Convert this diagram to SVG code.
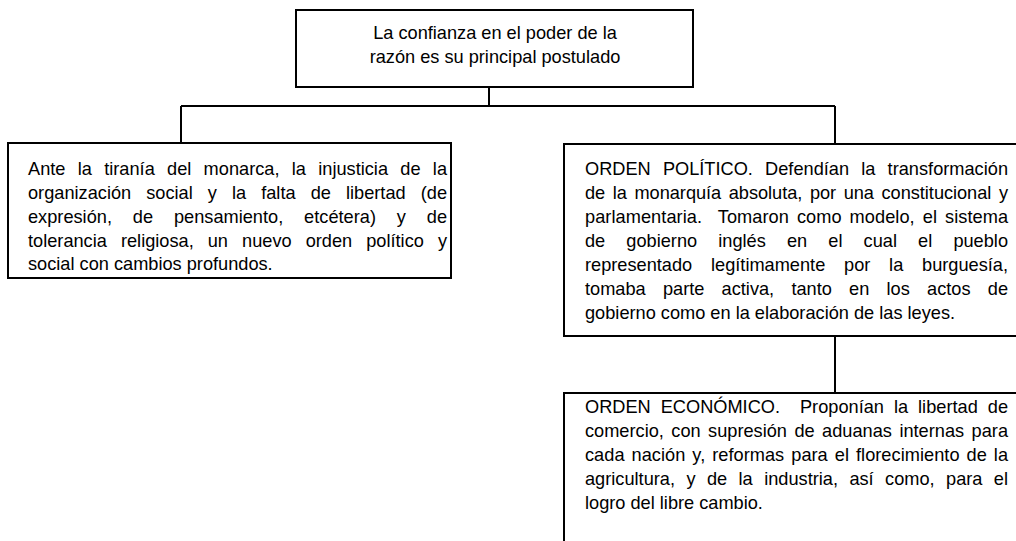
<svg xmlns="http://www.w3.org/2000/svg" width="1016" height="541" viewBox="0 0 1016 541">
<style>
.box{fill:#fff;stroke:#000;stroke-width:2}
.t{font-family:"Liberation Sans",Arial,sans-serif;font-size:18.2px;fill:#000}
.c{text-anchor:middle}
.pre{white-space:pre}
.ln{stroke:#000;stroke-width:2;fill:none}
</style>
<rect width="1016" height="541" fill="#fff"/>
<g id="connectors">
<path class="ln" d="M489 87V106M181 106H835M181 106V143M835 106V144M835 336V393"/>
</g>
<g id="top">
<rect class="box" x="296" y="10" width="397" height="77"/>
<text class="t c" x="495" y="39">La confianza en el poder de la</text>
<text class="t c" x="495" y="63">razón es su principal postulado</text>
</g>
<g id="left">
<rect class="box" x="8" y="143" width="443" height="135"/>
<text class="t" x="28" y="175" word-spacing="7.2" textLength="419" lengthAdjust="spacing">Ante la tiranía del monarca, la injusticia de la</text>
<text class="t" x="28" y="199" word-spacing="10" textLength="419" lengthAdjust="spacing">organización social y la falta de libertad (de</text>
<text class="t" x="28" y="223" word-spacing="15.8" textLength="419" lengthAdjust="spacing">expresión, de pensamiento, etcétera) y de</text>
<text class="t" x="28" y="247" word-spacing="9" textLength="419" lengthAdjust="spacing">tolerancia religiosa, un nuevo orden político y</text>
<text class="t" x="28" y="270">social con cambios profundos.</text>
</g>
<g id="politico">
<rect class="box" x="564" y="144" width="460" height="192"/>
<text class="t" x="585" y="175" word-spacing="7.1" textLength="423" lengthAdjust="spacing">ORDEN POLÍTICO. Defendían la transformación</text>
<text class="t" x="585" y="199" word-spacing="2.6" textLength="423" lengthAdjust="spacing">de la monarquía absoluta, por una constitucional y</text>
<text class="t pre" x="585" y="223" word-spacing="2.9" textLength="423" lengthAdjust="spacing" xml:space="preserve">parlamentaria.  Tomaron como modelo, el sistema</text>
<text class="t" x="585" y="247" word-spacing="16.1" textLength="423" lengthAdjust="spacing">de gobierno inglés en el cual el pueblo</text>
<text class="t" x="585" y="271" word-spacing="13.7" textLength="423" lengthAdjust="spacing">representado legítimamente por la burguesía,</text>
<text class="t" x="585" y="295" word-spacing="12.2" textLength="423" lengthAdjust="spacing">tomaba parte activa, tanto en los actos de</text>
<text class="t" x="585" y="319">gobierno como en la elaboración de las leyes.</text>
</g>
<g id="economico">
<rect class="box" x="564" y="393" width="460" height="160"/>
<text class="t pre" x="585" y="413" word-spacing="4.9" textLength="423" lengthAdjust="spacing" xml:space="preserve">ORDEN ECONÓMICO.  Proponían la libertad de</text>
<text class="t" x="585" y="437" word-spacing="2.4" textLength="423" lengthAdjust="spacing">comercio, con supresión de aduanas internas para</text>
<text class="t" x="585" y="461" word-spacing="1.9" textLength="423" lengthAdjust="spacing">cada nación y, reformas para el florecimiento de la</text>
<text class="t" x="585" y="485" word-spacing="6.35" textLength="423" lengthAdjust="spacing">agricultura, y de la industria, así como, para el</text>
<text class="t" x="585" y="509">logro del libre cambio.</text>
</g>
</svg>
